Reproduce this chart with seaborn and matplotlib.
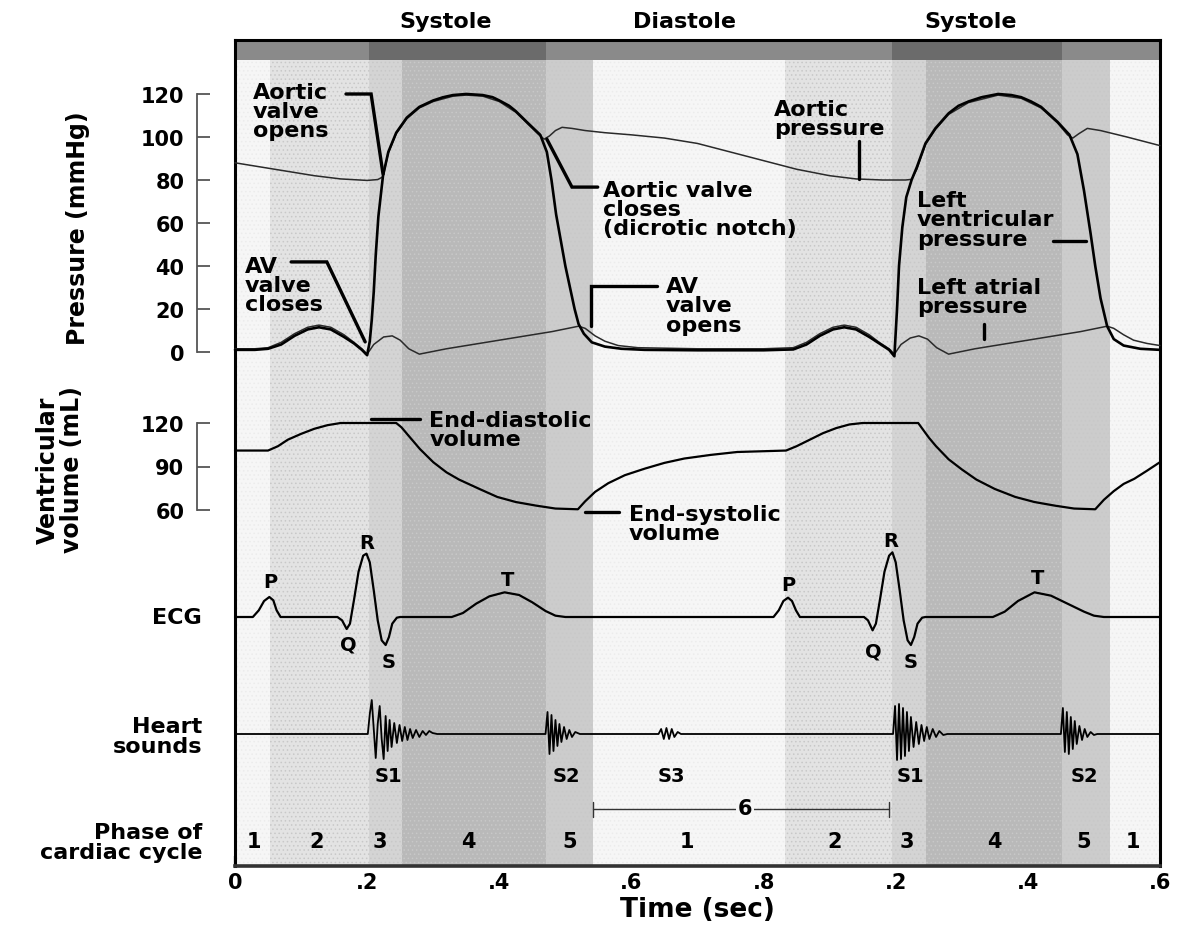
import matplotlib
matplotlib.use("Agg")
import matplotlib.pyplot as plt
import seaborn as sns

sns.set_style("white")
plt.rcParams["font.family"] = ["DejaVu Sans"]
plt.rcParams["font.weight"] = "bold"
plt.rcParams["axes.labelweight"] = "bold"
plt.rcParams["text.color"] = "black"
plt.rcParams["axes.labelcolor"] = "black"
plt.rcParams["xtick.labelcolor"] = "black"
plt.rcParams["ytick.labelcolor"] = "black"
plt.rcParams["hatch.linewidth"] = 0.6

# phases of the cardiac cycle (time in s)
phase_edges = [0, .053, .203, .253, .47, .542, .832, .995, 1.046, 1.252, 1.325, 1.4]
phase_ids = [1, 2, 3, 4, 5, 1, 2, 3, 4, 5, 1]
phase_colors = {1: "#f6f6f6", 2: "#e3e3e3", 3: "#d4d4d4", 4: "#b9b9b9", 5: "#cccccc"}
systole_spans = [(.203, .47), (.995, 1.252)]
top_labels = [("Systole", .319), ("Diastole", .681), ("Systole", 1.114)]

tick_pos = [0, .2, .4, .6, .8, 1.0, 1.2, 1.4]
tick_labels = ["0", ".2", ".4", ".6", ".8", ".2", ".4", ".6"]

# (time, mmHg)
aortic = [(0, 88), (.04, 86), (.08, 84), (.12, 82), (.16, 80.5), (.2, 79.8), (.216, 80.2), (.224, 81.5),
          (.232, 92.5), (.244, 101.5), (.26, 108.5), (.279, 113.5), (.30, 116.5), (.33, 119), (.35, 119.5),
          (.375, 119), (.40, 116.5), (.425, 111.5), (.445, 105.5), (.46, 101), (.468, 99), (.476, 100.5),
          (.485, 103), (.495, 104.5), (.51, 104), (.53, 103), (.56, 102), (.60, 101), (.65, 99.5), (.70, 97),
          (.75, 93), (.80, 89), (.85, 85), (.90, 82), (.94, 80.5), (.98, 80), (1.015, 80), (1.024, 80.3),
          (1.032, 85), (1.045, 96.5), (1.06, 103.5), (1.08, 110.5), (1.11, 116), (1.155, 119.5), (1.19, 118),
          (1.22, 113.5), (1.245, 106.5), (1.26, 101), (1.268, 99.5), (1.277, 101.5), (1.29, 104), (1.31, 103),
          (1.35, 100), (1.40, 96)]

lv_pressure = [(0, 1), (.03, 1), (.05, 1.5), (.07, 3.5), (.09, 7.5), (.11, 10.5), (.127, 11.5), (.145, 10.5),
               (.165, 7), (.18, 4), (.192, 1), (.2, -1.5), (.204, 5), (.207, 15), (.21, 28), (.213, 45),
               (.217, 63), (.224, 82), (.232, 93), (.244, 102), (.26, 109), (.279, 114), (.30, 117),
               (.315, 118.5), (.33, 119.5), (.35, 120), (.375, 119.5), (.39, 118.5), (.40, 117), (.415, 114.5),
               (.425, 112), (.445, 106), (.462, 101),
               (.472, 93), (.479, 80), (.486, 64), (.493, 52), (.50, 40), (.507, 30), (.514, 20), (.52, 13),
               (.528, 8.5), (.54, 4.5), (.56, 2.5), (.585, 1.5), (.62, 1), (.70, .8), (.80, .8), (.845, 1.2),
               (.865, 3.5), (.885, 7.5), (.905, 10.5), (.922, 11.5), (.94, 10.5), (.96, 7), (.975, 4),
               (.99, 1), (.998, -2), (1.002, 20), (1.005, 40), (1.010, 58), (1.016, 72), (1.024, 80),
               (1.032, 86), (1.045, 97), (1.06, 104), (1.08, 111), (1.095, 114.5), (1.11, 116.5), (1.13, 118.5),
               (1.155, 120), (1.175, 119.5), (1.19, 118.5), (1.205, 116.5),
               (1.22, 114), (1.245, 107), (1.263, 101), (1.275, 92), (1.285, 75), (1.295, 55), (1.302, 40),
               (1.31, 25), (1.32, 12), (1.33, 6), (1.345, 3), (1.37, 1.5), (1.40, 1)]

la_pressure = [(0, 1.5), (.03, 1.5), (.05, 2), (.07, 4.5), (.09, 8.5), (.11, 11.5), (.127, 12.5), (.145, 11.5),
               (.165, 8), (.18, 4.5), (.192, 1.5), (.2, -1), (.21, 3.5), (.225, 7), (.238, 7.5), (.25, 5.5),
               (.263, 1.5), (.279, -1), (.32, 1.5), (.36, 3.5), (.40, 5.5), (.44, 7.5), (.48, 9.5), (.52, 12),
               (.53, 11), (.545, 7.5), (.56, 5), (.58, 3), (.61, 2), (.70, 1.5), (.80, 1.5), (.845, 2),
               (.865, 4.5), (.885, 8.5), (.905, 11.5), (.922, 12.5), (.94, 11.5), (.96, 8), (.975, 4.5),
               (.99, 1.5), (.998, -1), (1.008, 3.5), (1.022, 6.5), (1.035, 7.5), (1.048, 6), (1.062, 2),
               (1.08, -1), (1.12, 1.5), (1.16, 3.5), (1.20, 5.5), (1.24, 7.5), (1.28, 9.5), (1.32, 12),
               (1.33, 11), (1.345, 8), (1.36, 5.5), (1.38, 4), (1.40, 3)]

# (time, mL)
volume = [(0, 101), (.05, 101), (.065, 104), (.08, 108.5), (.10, 112.5), (.12, 116), (.14, 118.5), (.16, 120),
          (.244, 120), (.252, 117), (.265, 110), (.28, 102), (.30, 93), (.32, 86), (.339, 81), (.37, 74.5),
          (.397, 69), (.425, 65.5), (.456, 63), (.485, 61), (.519, 60.5), (.53, 66), (.545, 72.5), (.565, 78.5),
          (.59, 84), (.62, 88.5), (.65, 92.5), (.68, 95.5), (.72, 98), (.76, 100), (.834, 101), (.85, 104),
          (.87, 108.5), (.89, 113), (.91, 116.5), (.93, 119), (.95, 120), (1.034, 120), (1.042, 115),
          (1.05, 110), (1.061, 104), (1.08, 95), (1.10, 88), (1.122, 81), (1.15, 74.5), (1.181, 69),
          (1.21, 65.5), (1.241, 63), (1.27, 61), (1.302, 60.5), (1.315, 67), (1.33, 73), (1.345, 78),
          (1.361, 81.5), (1.38, 87), (1.40, 93)]

# (time, mV)
ecg = [(0, 0), (.027, 0), (.036, .1), (.044, .24), (.052, .3), (.058, .25), (.063, .1), (.069, 0), (.155, 0),
       (.162, -.05), (.169, -.18), (.174, -.1), (.180, .25), (.187, .68), (.194, .92), (.199, .95), (.204, .82),
       (.210, .4), (.216, -.05), (.222, -.35), (.228, -.42), (.233, -.3), (.238, -.1), (.245, -.01), (.25, 0),
       (.328, 0), (.345, .06), (.365, .2), (.385, .31), (.408, .37), (.43, .33), (.45, .22), (.47, .09),
       (.485, .02), (.50, 0), (.815, 0), (.823, .1), (.830, .24), (.837, .29), (.843, .24), (.849, .1),
       (.855, 0), (.952, 0), (.958, -.05), (.965, -.2), (.970, -.1), (.976, .25), (.983, .68), (.990, .92),
       (.995, .97), (1.0, .82), (1.006, .4), (1.012, -.05), (1.018, -.35), (1.023, -.42), (1.028, -.3),
       (1.033, -.1), (1.040, -.01), (1.045, 0), (1.147, 0), (1.165, .08), (1.185, .24), (1.21, .37),
       (1.235, .32), (1.26, .2), (1.285, .08), (1.30, .02), (1.315, 0), (1.40, 0)]

# (time, amplitude)
sounds = [(0, 0), (.201, 0), (.204, 20), (.207, 34), (.210, 5), (.213, -24), (.216, 10), (.219, 28), (.222, -5),
          (.225, -25), (.228, 18), (.231, -17), (.234, 14), (.237, -13), (.241, 11), (.245, -9), (.249, 9),
          (.253, -7), (.257, 7), (.261, -6), (.265, 5), (.269, -4), (.274, 4), (.279, -3), (.284, 3), (.289, -1),
          (.294, 3), (.299, 1), (.306, 0), (.470, 0), (.473, 22), (.476, -20), (.479, 19), (.482, -17),
          (.485, 14), (.488, -12), (.491, 10), (.494, -8), (.498, 7), (.502, -5), (.506, 4), (.510, -3),
          (.515, 2), (.522, 0), (.641, 0), (.645, 5), (.649, -5), (.653, 6), (.657, -5), (.661, 5), (.665, -3),
          (.670, 2), (.675, 0), (.996, 0), (.999, 28), (1.002, -26), (1.005, 30), (1.008, -25), (1.011, 26),
          (1.014, -22), (1.017, 22), (1.020, -17), (1.023, 17), (1.027, -13), (1.031, 12), (1.035, -10),
          (1.039, 9), (1.043, -7), (1.047, 7), (1.051, -5), (1.056, 5), (1.061, -3), (1.066, 3), (1.072, -1),
          (1.078, 0), (1.250, 0), (1.253, 26), (1.256, -18), (1.259, 22), (1.262, -20), (1.265, 17),
          (1.268, -15), (1.271, 13), (1.274, -10), (1.278, 8), (1.282, -6), (1.286, 5), (1.290, -3),
          (1.295, 2), (1.300, -1), (1.305, 0), (1.40, 0)]

ecg_marks = [("P", .053, .54), ("Q", .171, -.40), ("R", .2, 1.12), ("S", .232, -.67), ("T", .412, .57),
             ("P", .837, .49), ("Q", .966, -.51), ("R", .993, 1.15), ("S", 1.022, -.67), ("T", 1.214, .6)]
sound_marks = [("S1", .232), ("S2", .501), ("S3", .661), ("S1", 1.022), ("S2", 1.285)]
phase_marks = [(1, .029), (2, .123), (3, .219), (4, .353), (5, .507), (1, .684),
               (2, .907), (3, 1.017), (4, 1.15), (5, 1.285), (1, 1.359)]

pressure_notes = [
    ("Aortic\nvalve\nopens", .027, 125.6, [(.168, .206, .224), (120, 120, 82.8)]),
    ("AV\nvalve\ncloses", .015, 44.7, [(.085, .139, .197), (41.9, 41.9, 4.7)]),
    ("Aortic valve\ncloses\n(dicrotic notch)", .557, 80, [(.472, .510, .549), (99, 76.7, 76.7)]),
    ("AV\nvalve\nopens", .652, 35.3, [(.539, .539, .639), (12.1, 30.7, 30.7)]),
    ("Aortic\npressure", .816, 117.7, [(.944, .944), (98, 80.5)]),
    ("Left\nventricular\npressure", 1.032, 75.3, [(1.238, 1.288), (51.6, 51.6)]),
    ("Left atrial\npressure", 1.032, 34.9, [(1.134, 1.134), (13, 6)]),
]
volume_notes = [
    ("End-diastolic\nvolume", .294, 129, [(.206, .28), (122.5, 122.5)]),
    ("End-systolic\nvolume", .596, 64.1, [(.529, .581), (58.6, 58.6)]),
]

W, H = 1181, 928


def box(left, top, right, bottom):
    return [left / W, 1 - bottom / H, (right - left) / W, (bottom - top) / H]


def overlay(top, bottom, ylim):
    ax = fig.add_axes(box(235, top, 1160, bottom))
    ax.set_xlim(0, 1.4)
    ax.set_ylim(*ylim)
    ax.patch.set_visible(False)
    ax.set_xticks([])
    ax.set_yticks([])
    for s in ax.spines.values():
        s.set_visible(False)
    return ax


def trace(ax, data, **kw):
    t = [p[0] for p in data]
    v = [p[1] for p in data]
    sns.lineplot(x=t, y=v, ax=ax, estimator=None, errorbar=None, clip_on=False, **kw)
    ax.set_yticks([])


fig = plt.figure(figsize=(11.81, 9.28), dpi=100)

# background with the phase shading
ax_bg = fig.add_axes(box(235, 41, 1160, 867))
ax_bg.set_xlim(0, 1.4)
ax_bg.set_ylim(867, 41)
bar = 20 / 826
for i, ph in enumerate(phase_ids):
    ax_bg.axvspan(phase_edges[i], phase_edges[i + 1], ymax=1 - bar, facecolor=phase_colors[ph],
                  edgecolor="#c8c8c8" if ph > 1 else "#ececec", hatch="....", lw=0)
ax_bg.axvspan(0, 1.4, ymin=1 - bar, color="#8a8a8a", lw=0)
for a, b in systole_spans:
    ax_bg.axvspan(a, b, ymin=1 - bar, color="#6b6b6b", lw=0)
for s in ["left", "right", "top"]:
    ax_bg.spines[s].set_color("black")
    ax_bg.spines[s].set_linewidth(2.2)
ax_bg.spines["bottom"].set_color("#333333")
ax_bg.spines["bottom"].set_linewidth(2.6)
ax_bg.set_yticks([])
ax_bg.set_xticks(tick_pos, tick_labels)
ax_bg.tick_params(axis="x", bottom=True, direction="in", length=7, width=1.6, color="#222222",
                  pad=4, labelsize=15)
ax_bg.set_xlabel("Time (sec)", fontsize=19, fontweight="bold", labelpad=3)

for name, t in top_labels:
    ax_bg.text(t, 22, name, ha="center", va="center", fontsize=16)

ax_bg.plot([.542, .99], [810, 810], color="#333333", lw=1)
ax_bg.plot([.542, .542], [803, 818], color="#333333", lw=1)
ax_bg.plot([.99, .99], [803, 818], color="#333333", lw=1)
ax_bg.text(.772, 809, "6", ha="center", va="center", fontsize=15,
           bbox=dict(facecolor=phase_colors[1], edgecolor="none", pad=1))
for num, t in phase_marks:
    ax_bg.text(t, 842, str(num), ha="center", va="center", fontsize=15)

# pressure traces
ax_p = overlay(95, 353, (0, 120))
trace(ax_p, aortic, color="#2a2a2a", linewidth=1.1)
trace(ax_p, la_pressure, color="#2a2a2a", linewidth=1.1)
trace(ax_p, lv_pressure, color="black", linewidth=1.9)

# ventricular volume
ax_v = overlay(424, 511, (60, 120))
trace(ax_v, volume, color="black", linewidth=1.6)

for ax, ticks in [(ax_p, [0, 20, 40, 60, 80, 100, 120]), (ax_v, [60, 90, 120])]:
    sp = ax.spines["left"]
    sp.set_visible(True)
    sp.set_position(("outward", 27.4))
    sp.set_bounds(ticks[0], ticks[-1])
    sp.set_color("#555555")
    sp.set_linewidth(1.3)
    ax.set_yticks(ticks)
    ax.tick_params(axis="y", left=True, direction="in", length=9.4, width=1.3, color="#555555",
                   pad=9, labelsize=15)

for ax, notes in [(ax_p, pressure_notes), (ax_v, volume_notes)]:
    for label, tx, ty, (lx, ly) in notes:
        ax.text(tx, ty, label, ha="left", va="top", fontsize=16, linespacing=0.95)
        ax.plot(lx, ly, color="black", lw=2.4, clip_on=False, solid_joinstyle="miter")

# ECG
ax_e = overlay(538, 678, (-0.9, 1.2))
trace(ax_e, ecg, color="black", linewidth=1.6)
for name, t, v in ecg_marks:
    ax_e.text(t, v, name, ha="center", va="center", fontsize=14)

# heart sounds
ax_s = overlay(690, 780, (-45, 45))
trace(ax_s, sounds, color="black", linewidth=1.3)
for name, t in sound_marks:
    ax_s.text(t, -42, name, ha="center", va="center", fontsize=14)

fig.text(78 / W, 1 - 228 / H, "Pressure (mmHg)", rotation=90, ha="center", va="center", fontsize=17)
fig.text(60 / W, 1 - 470 / H, "Ventricular\nvolume (mL)", rotation=90, ha="center", va="center",
         fontsize=17, linespacing=1.0)
fig.text(202 / W, 1 - 618 / H, "ECG", ha="right", va="center", fontsize=16)
fig.text(202 / W, 1 - 737 / H, "Heart\nsounds", ha="right", va="center", multialignment="right",
         fontsize=16, linespacing=1.0)
fig.text(202 / W, 1 - 843 / H, "Phase of\ncardiac cycle", ha="right", va="center", multialignment="right",
         fontsize=16, linespacing=1.0)

fig.savefig("out.png", dpi=100)
